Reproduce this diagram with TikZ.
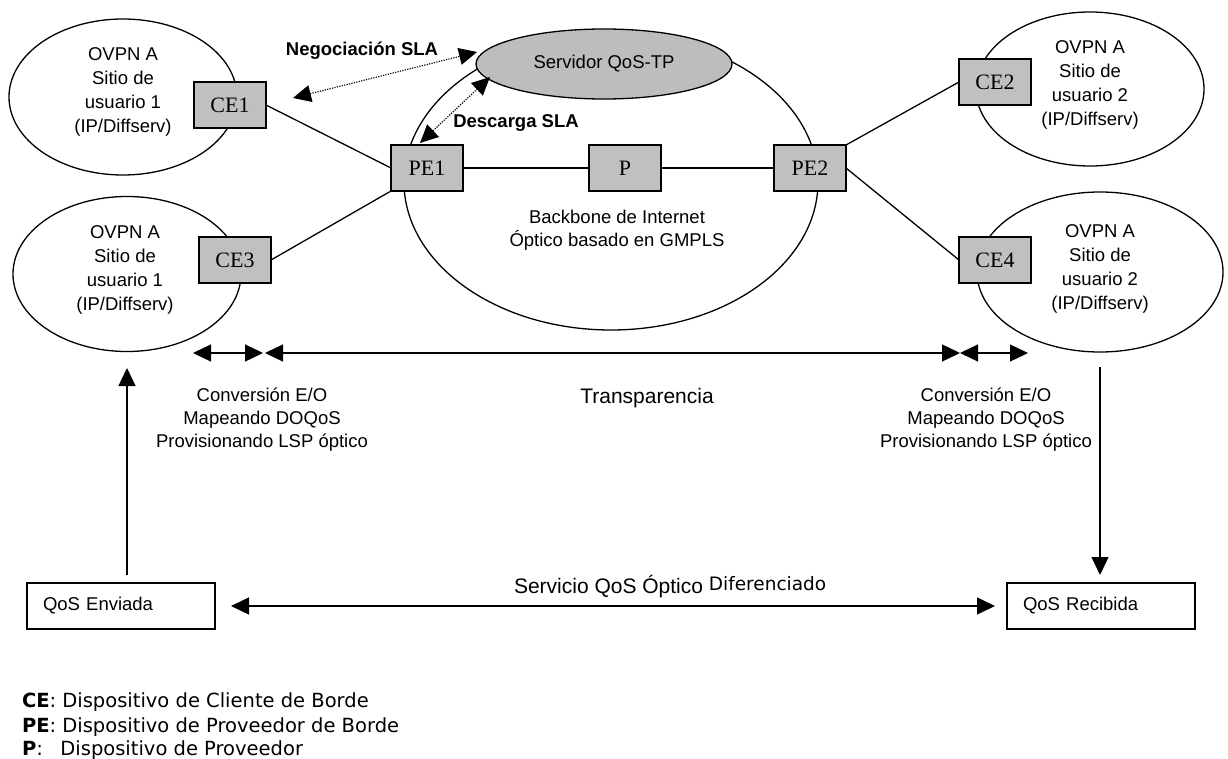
\documentclass[tikz,border=0pt]{standalone}
\usepackage{fontspec}
\setmainfont{Liberation Sans}
\newfontfamily\timesf{Liberation Serif}
\newfontfamily\verdf{DejaVu Sans}
\usetikzlibrary{arrows.meta,shapes.geometric}
\definecolor{devgray}{HTML}{C0C0C0}
\definecolor{srvgray}{HTML}{BDBDBD}
\tikzset{tri/.tip={Triangle[length=18pt,width=17pt]}}
\begin{document}
\begin{tikzpicture}[x=1pt,y=-1pt,
  line width=1.3pt,
  every node/.style={inner sep=0pt, outer sep=0pt},
  site/.style={draw, ellipse, line width=1.3pt},
  dev/.style={draw, fill=devgray, line width=1.5pt, minimum width=72pt, minimum height=46pt,
    font=\timesf\fontsize{22}{24}\selectfont},
  qosbox/.style={draw, line width=1.5pt, minimum height=46pt, text width=156pt, inner xsep=16pt,
    align=left, font=\fontsize{18.5}{22}\selectfont},
  lbl/.style={font=\fontsize{18.5}{24}\selectfont, align=center},
  note/.style={font=\fontsize{18.5}{23}\selectfont, align=center},
  boldlbl/.style={font=\bfseries\fontsize{18.5}{22}\selectfont},
  legend/.style={anchor=west, font=\verdf\fontsize{19.5}{22}\selectfont},
  link/.style={line width=1.3pt},
  sla/.style={tri-tri, line width=1.2pt, dash pattern=on 1.2pt off 1.3pt},
  span/.style={tri-tri, line width=1.3pt}]
\useasboundingbox (0,0) rectangle (1228,759);

% customer sites and backbone
\node[site, minimum width=228pt, minimum height=156pt] (site1) at (123,97) {};
\node[site, minimum width=228pt, minimum height=155pt] (site3) at (127,274) {};
\node[site, minimum width=228pt, minimum height=154pt] (site2) at (1090,89) {};
\node[site, minimum width=246pt, minimum height=160pt] (site4) at (1100,272) {};
\node[site, minimum width=414pt, minimum height=296pt] (core) at (611,182) {};
\node[site, fill=srvgray, minimum width=256pt, minimum height=70pt,
  font=\fontsize{18.5}{22}\selectfont] (srv) at (604,64) {Servidor QoS-TP};

% site texts
\node[lbl] (t1) at (123,92) {OVPN A\\ Sitio de\\usuario 1\\(IP/Diffserv)};
\node[lbl] (t3) at (125,270) {OVPN A\\ Sitio de\\usuario 1\\(IP/Diffserv)};
\node[lbl] (t2) at (1090,85) {OVPN A\\ Sitio de\\usuario 2\\(IP/Diffserv)};
\node[lbl] (t4) at (1100,269) {OVPN A\\ Sitio de\\usuario 2\\(IP/Diffserv)};
\node[note] (tcore) at (617,230) {Backbone de Internet\\Óptico basado en GMPLS};

% devices
\node[dev] (CE1) at (230,105) {CE1};
\node[dev] (CE3) at (235,260) {CE3};
\node[dev] (PE1) at (427,168) {PE1};
\node[dev] (P)   at (625,168) {P};
\node[dev] (PE2) at (810,168) {PE2};
\node[dev] (CE2) at (995,82)  {CE2};
\node[dev] (CE4) at (995,260) {CE4};

% links
\draw[link] (CE1.east) -- (PE1.west);
\draw[link] (CE3.east) -- (PE1.south west);
\draw[link] (PE1) -- (P);
\draw[link] (P) -- (PE2);
\draw[link] (PE2.north east) -- (CE2.west);
\draw[link] (PE2.east) -- (CE4.west);

% SLA signalling
\coordinate (negA) at (293,98);
\coordinate (negB) at (477,52);
\coordinate (desA) at (420,143);
\coordinate (desB) at (490,77);
\draw[sla] (negA) -- (negB);
\draw[sla] (desA) -- (desB);
\node[boldlbl] (neg) at (362,51) {Negociación SLA};
\node[boldlbl] (des) at (516,123) {Descarga SLA};

% transparency spans
\coordinate (r1) at (193,353);
\coordinate (r2) at (263,353);
\coordinate (r3) at (265,353);
\coordinate (r4) at (960,353);
\coordinate (r5) at (960,353);
\coordinate (r6) at (1028,353);
\draw[span] (r1) -- (r2);
\draw[span] (r3) -- (r4);
\draw[span] (r5) -- (r6);

\node[note] (convL) at (262,420) {Conversión E/O\\Mapeando DOQoS\\Provisionando LSP óptico};
\node[note] (convR) at (986,420) {Conversión E/O\\Mapeando DOQoS\\Provisionando LSP óptico};
\node[font=\fontsize{21}{24}\selectfont] (transp) at (647,398) {Transparencia};

% end-to-end QoS
\node[qosbox] (env) at (121,606) {QoS Enviada};
\node[qosbox] (rec) at (1101,606) {QoS Recibida};
\coordinate (upTop) at (127,368);
\coordinate (downTop) at (1100,367);
\draw[link, -tri, shorten <=8pt] (env.north -| upTop) -- (upTop);
\draw[link, -tri, shorten >=8pt] (downTop) -- (rec.north -| downTop);
\draw[span, shorten <=16pt, shorten >=12pt] (env.east) -- (rec.west);
\node[anchor=base west, font=\fontsize{21}{24}\selectfont] (serv) at (514,593)
  {Servicio QoS Óptico \raisebox{3pt}{\verdf\fontsize{18.5}{20}\selectfont Diferenciado}};

% legend
\node[legend] (lgCE) at (22,702) {\textbf{CE}: Dispositivo de Cliente de Borde};
\node[legend] (lgPE) at (22,727) {\textbf{PE}: Dispositivo de Proveedor de Borde};
\node[legend] (lgP)  at (22,750) {\textbf{P}:\hspace{0.9em}Dispositivo de Proveedor};
\end{tikzpicture}
\end{document}
